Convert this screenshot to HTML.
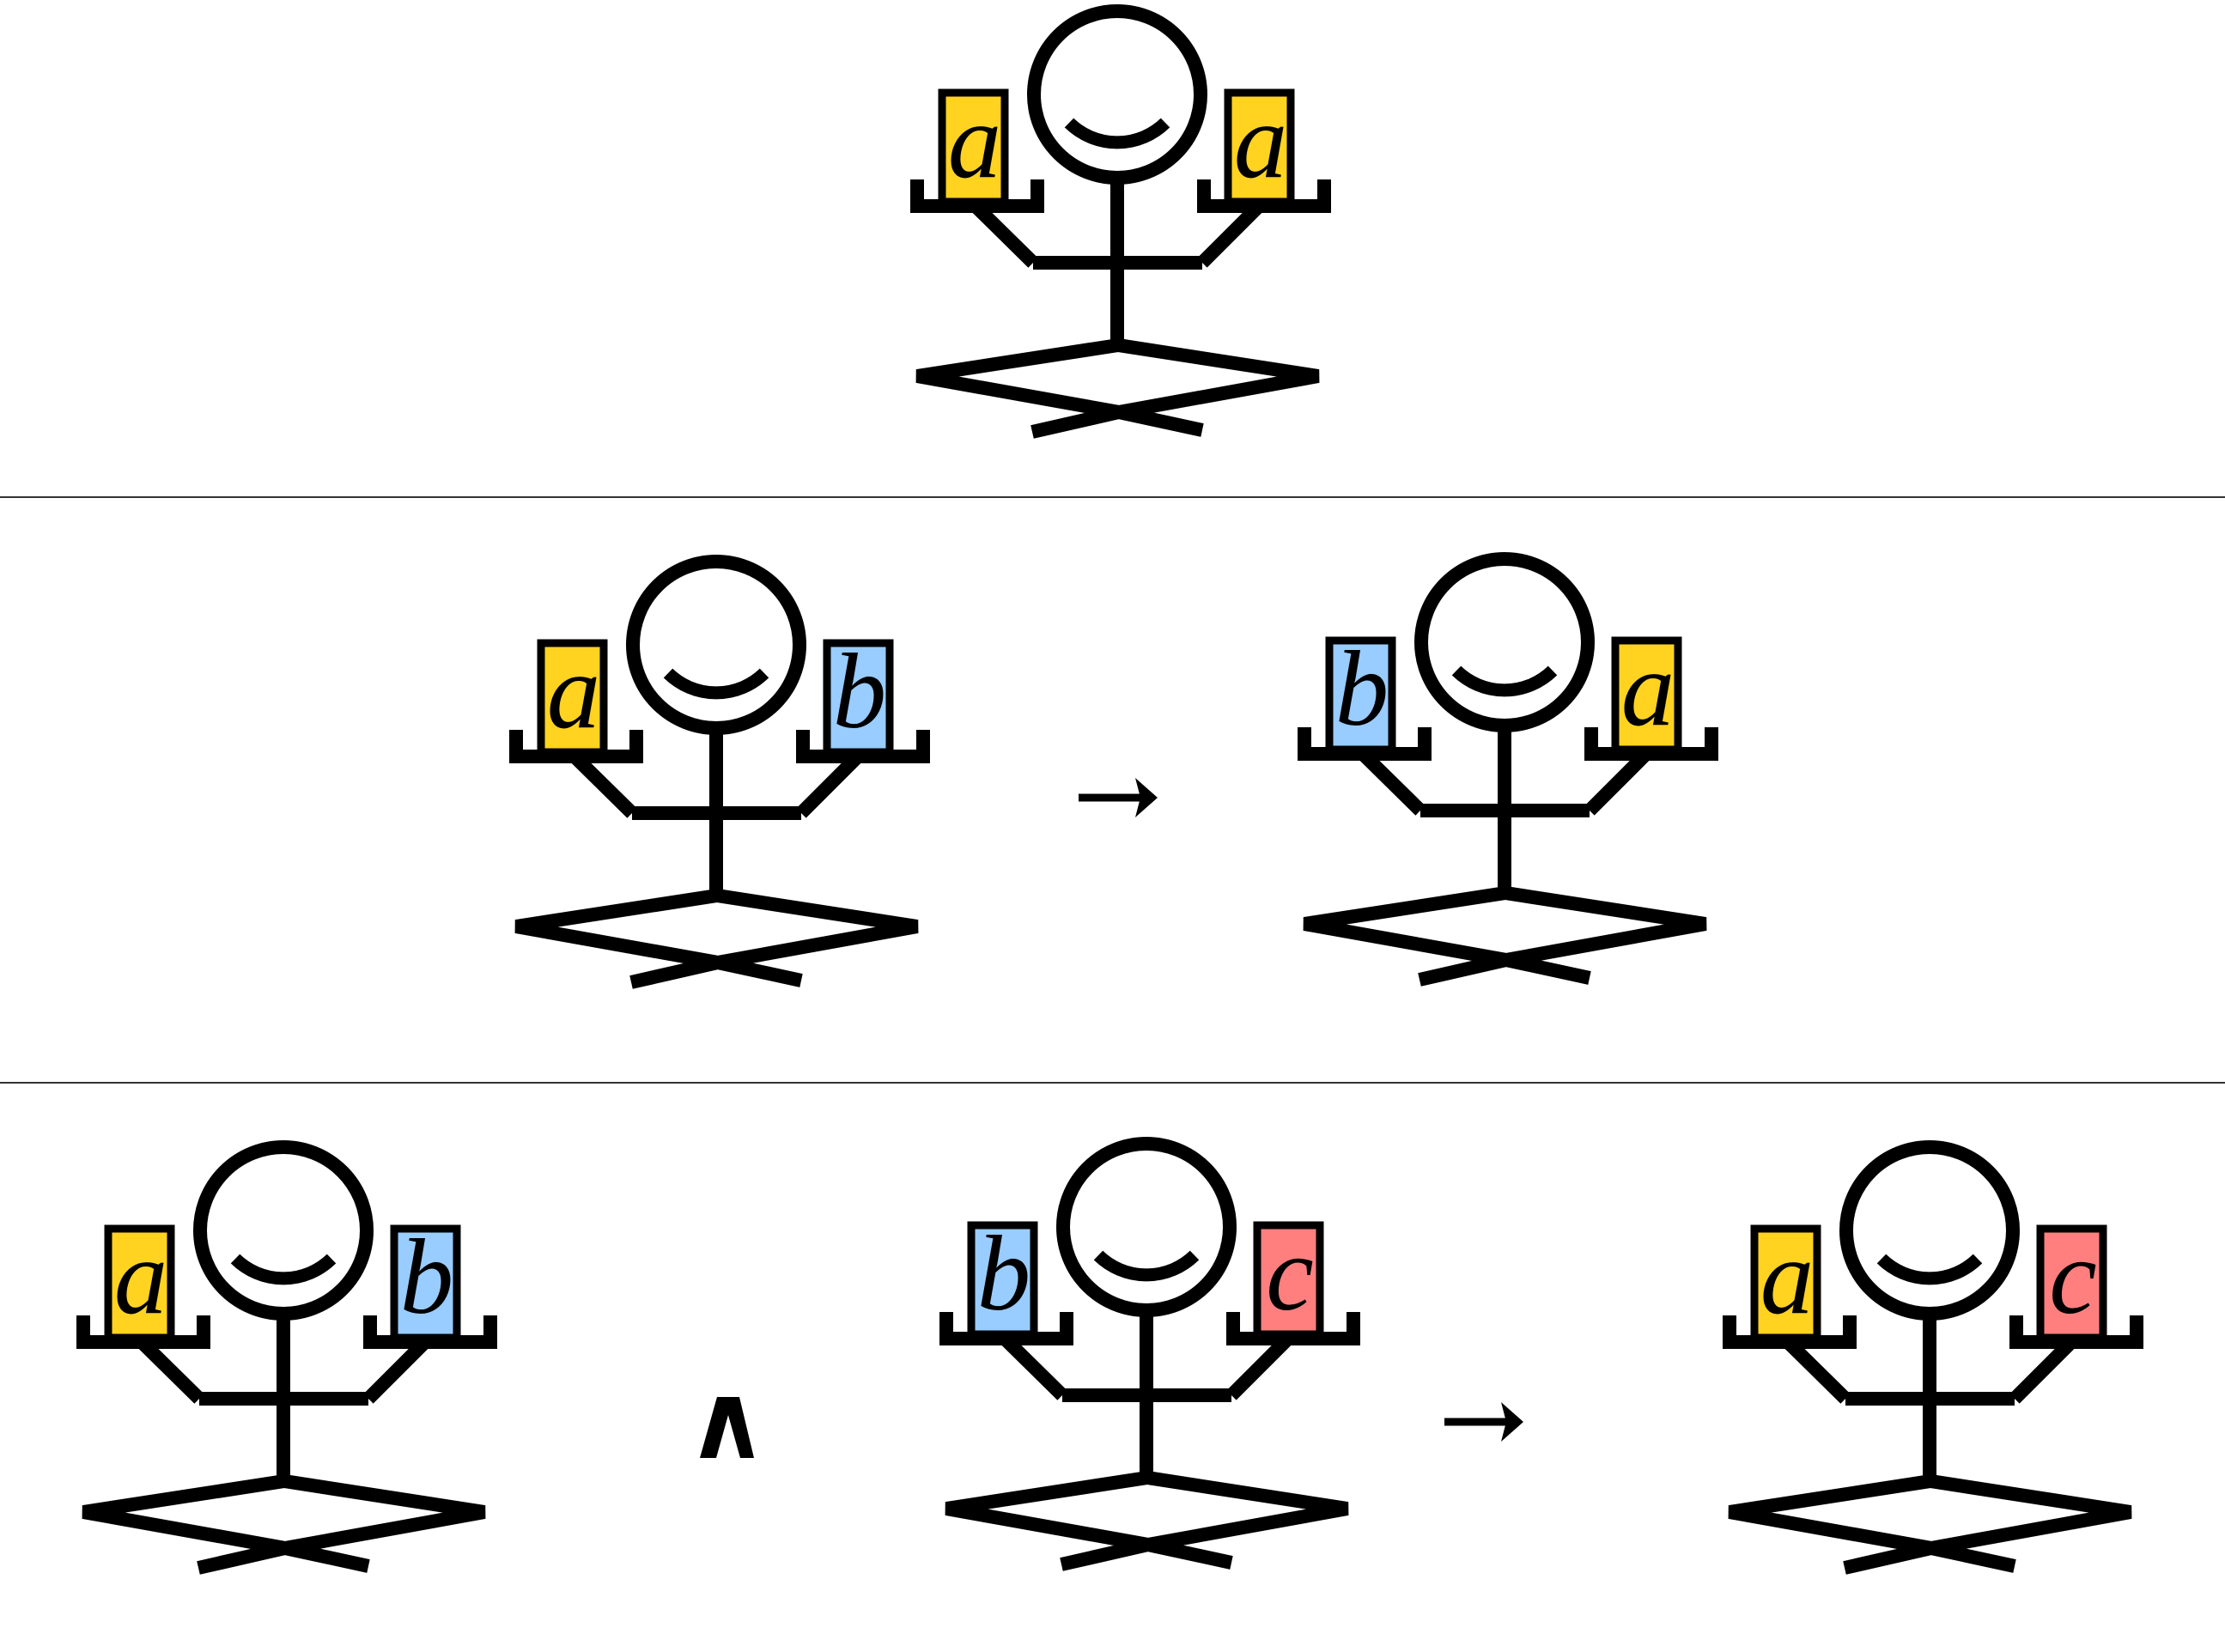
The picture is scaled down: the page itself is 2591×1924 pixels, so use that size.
<!DOCTYPE html>
<html><head><meta charset="utf-8"><style>
html,body{margin:0;padding:0;background:#fff;}
svg{display:block;}
</style></head><body>
<svg id="root" width="2591" height="1924" viewBox="0 0 2591 1924" xmlns="http://www.w3.org/2000/svg">
<rect x="0" y="0" width="2591" height="1924" fill="#fff"/>
<line x1="0" y1="579" x2="2591" y2="579" stroke="#333" stroke-width="2"/>
<line x1="0" y1="1261" x2="2591" y2="1261" stroke="#333" stroke-width="2"/>
<g>
<line x1="1256" y1="929" x2="1330" y2="929" stroke="#000" stroke-width="9"/>
<path d="M1322,906 L1348,929 L1322,952 L1328,929 Z" fill="#000"/>
</g>
<g>
<line x1="1682" y1="1656" x2="1756" y2="1656" stroke="#000" stroke-width="9"/>
<path d="M1748,1633 L1774,1656 L1748,1679 L1754,1656 Z" fill="#000"/>
</g>
<polygon points="835,1627 861,1627 878,1698 862,1698 848,1648 834,1698 815,1698" fill="#000"/>
</svg>
<script>
var figures = [
  {x:1040,y:6,left:'a',right:'a'},
  {x:573,y:647,left:'a',right:'b'},
  {x:1491,y:644,left:'b',right:'a'},
  {x:69,y:1329,left:'a',right:'b'},
  {x:1074,y:1325,left:'b',right:'c'},
  {x:1986,y:1329,left:'a',right:'c'}
];
var colors = {a:'#FFD320', b:'#99CCFF', c:'#FF7F7F'};
var NS='http://www.w3.org/2000/svg';
var root=document.getElementById('root');
function mk(tag, attrs, parent){
  var e=document.createElementNS(NS,tag);
  for(var k in attrs) e.setAttribute(k,attrs[k]);
  parent.appendChild(e); return e;
}
figures.forEach(function(f,i){
  var g=mk('g',{transform:'translate('+f.x+','+f.y+')'},root);
  
  
  var head=mk('circle',{cx:261,cy:104,r:97,fill:'none',stroke:'#000','stroke-width':16},g);
  
  
  var smile=mk('path',{d:'M205,137 A80,80 0 0 0 317,137',fill:'none',stroke:'#000','stroke-width':15},g);
  
  
  var body=mk('path',{d:'M261,205 L261,398 M163,300 L360,300 M163,300 L98,236 M360,300 L424,236',fill:'none',stroke:'#000','stroke-width':16},g);
  
  
  var legs=mk('path',{d:'M262,396 L28,432 L263,474 L495,432 Z M263,474 L162,497 M263,474 L360,495',fill:'none',stroke:'#000','stroke-width':16,'stroke-linejoin':'miter'},g);
  
  
  [[57,28,f.left,'left'],[390,362,f.right,'right']].forEach(function(c){
    var card=mk('rect',{x:c[0],y:102,width:73,height:127,fill:colors[c[2]],stroke:'#000','stroke-width':9},g);
    
    
    var t=mk('text',{x:c[0]+38,y:200,'text-anchor':'middle','font-family':'"Liberation Serif", serif','font-style':'italic','font-size':125,fill:'#000'},g);
    t.textContent=c[2];
    
    
    var tx=c[1];
    var tray=mk('path',{d:'M'+(tx-1)+',234 L'+(tx+141)+',234 M'+(tx)+',203 L'+(tx)+',242 M'+(tx+140)+',203 L'+(tx+140)+',242',fill:'none',stroke:'#000','stroke-width':16},g);
    
    
  });
});
</script>
</body></html>
